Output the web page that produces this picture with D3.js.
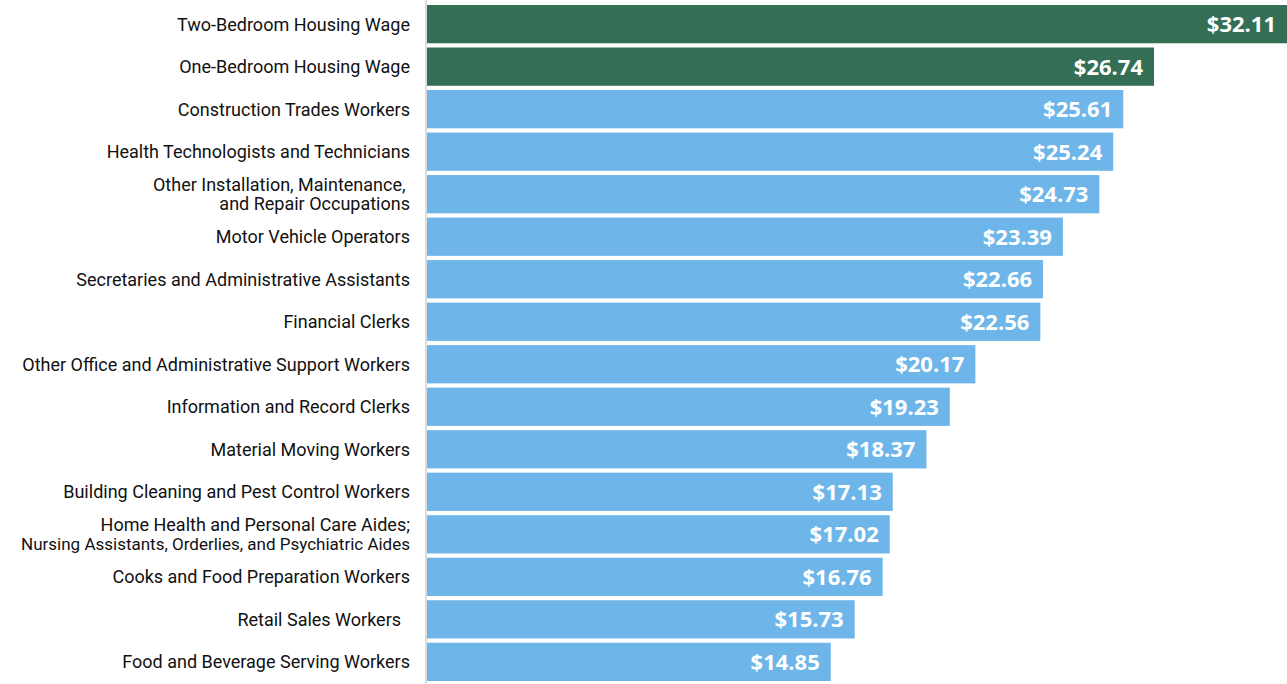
<!DOCTYPE html>
<head>
  <meta charset="utf-8">
  <script src="https://d3js.org/d3.v7.min.js"></script>
  <style>
    body { margin: 0; background: #fff; }
    .label { font-family: Roboto, "DejaVu Sans", sans-serif; font-size: 18px; fill: #111; }
    .value { font-family: "Open Sans", "DejaVu Sans", sans-serif; font-weight: 700; font-size: 22px; fill: #fff; }
  </style>
</head>
<body>
  <div id="vis"></div>
  <script>

    // occupations, top to bottom (\n splits a label into two lines)
    var categories = [
      "Two-Bedroom Housing Wage",
      "One-Bedroom Housing Wage",
      "Construction Trades Workers",
      "Health Technologists and Technicians",
      "Other Installation, Maintenance,\u00a0\nand Repair Occupations",
      "Motor Vehicle Operators",
      "Secretaries and Administrative Assistants",
      "Financial Clerks",
      "Other Office and Administrative Support Workers",
      "Information and Record Clerks",
      "Material Moving Workers",
      "Building Cleaning and Pest Control Workers",
      "Home Health and Personal Care Aides;\nNursing Assistants, Orderlies, and Psychiatric Aides",
      "Cooks and Food Preparation Workers",
      "Retail Sales Workers\u00a0\u00a0",
      "Food and Beverage Serving Workers"
    ];

    var wages = [32.11, 26.74, 25.61, 25.24, 24.73, 23.39, 22.66, 22.56,
      20.17, 19.23, 18.37, 17.13, 17.02, 16.76, 15.73, 14.85];

    // first two are housing wages, the rest occupation wages
    var groups = ["housing", "housing", "job", "job", "job", "job", "job", "job",
      "job", "job", "job", "job", "job", "job", "job", "job"];

    var width = 1287,
      height = 684;

    var colors = { housing: "#346f55", job: "#6eb6ea" };

    var data = categories.map(function (c, i) {
      return { name: c, wage: wages[i], group: groups[i] };
    });

    var svg = d3.select("#vis")
      .append("svg")
      .attr("width", width)
      .attr("height", height);

    var x = d3.scaleLinear()
      .domain([0, 32.11])
      .range([427, 1300]);

    var y = d3.scaleBand()
      .domain(categories)
      .range([5, 681])
      .paddingInner(0.1)
      .paddingOuter(0);

    ////////// bars //////////

    svg.selectAll(".bar")
      .data(data)
      .enter().append("rect")
      .attr("class", "bar")
      .attr("x", x(0))
      .attr("y", d => y(d.name))
      .attr("width", d => x(d.wage) - x(0))
      .attr("height", y.bandwidth())
      .attr("fill", d => colors[d.group]);

    // left axis line
    svg.append("line")
      .attr("x1", x(0) - 1)
      .attr("x2", x(0) - 1)
      .attr("y1", 0)
      .attr("y2", height)
      .attr("stroke", "#dcdcdc")
      .attr("stroke-width", 2);

    ////////// value labels //////////

    svg.selectAll(".value")
      .data(data)
      .enter().append("text")
      .attr("class", "value")
      .attr("x", d => Math.min(x(d.wage), width) - 11)
      .attr("y", d => y(d.name) + y.bandwidth() / 2)
      .attr("dy", "0.36em")
      .attr("text-anchor", "end")
      .text(d => "$" + d3.format(".2f")(d.wage));

    ////////// category labels //////////

    var labels = svg.selectAll(".label")
      .data(data)
      .enter().append("text")
      .attr("class", "label")
      .attr("text-anchor", "end")
      .attr("x", 410)
      .attr("y", d => y(d.name) + y.bandwidth() / 2);

    labels.each(function (d) {
      var lines = d.name.split("\n");
      var t = d3.select(this);
      lines.forEach(function (line, i) {
        var span = t.append("tspan")
          .attr("x", 410)
          .attr("y", y(d.name) + y.bandwidth() / 2 + (i - (lines.length - 1) / 2) * 19)
          .attr("dy", "0.36em")
          .text(line);
        // keep very long lines inside the left edge
        if (span.node().getComputedTextLength() > 398) span.style("font-size", "17px");
      });
    });

  </script>
</body>
